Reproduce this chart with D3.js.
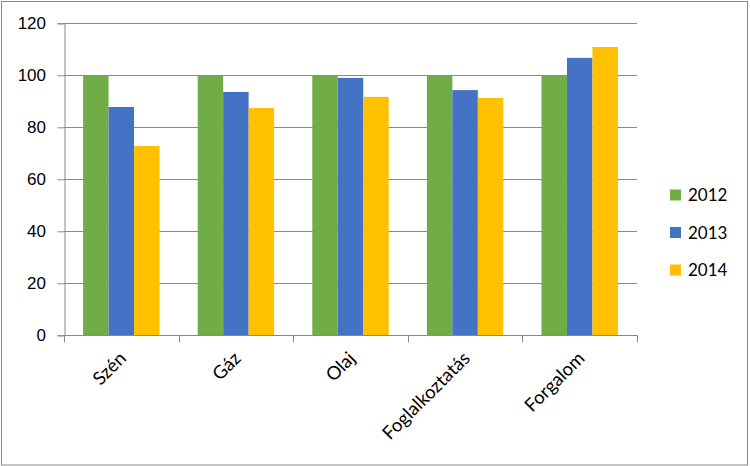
<!DOCTYPE html>
<html lang="hu">
<head>
<meta charset="UTF-8">
<title>Index 2012=100</title>
<script src="https://d3js.org/d3.v7.min.js"></script>
<style>
  body { margin: 0; background: #fff; }
  svg { display: block; font-family: Lato, "Open Sans", sans-serif; }
</style>
</head>
<body>
<script>
// Data (2012 = 100)
const categories = ["Szén", "Gáz", "Olaj", "Foglalkoztatás", "Forgalom"];
const years = ["2012", "2013", "2014"];
const values2012 = [100, 100, 100, 100, 100];
const values2013 = [87.8, 93.6, 99.0, 94.3, 106.7];
const values2014 = [72.8, 87.4, 91.7, 91.3, 110.9];
const yTicks = [0, 20, 40, 60, 80, 100, 120];
const colors = ["#70AD47", "#4472C4", "#FFC000"];

const W = 750, H = 466;
const plot = { left: 64, right: 637, top: 23.3, bottom: 335.3 };
const gridColor = "#898989";

const seriesValues = [values2012, values2013, values2014];
const data = categories.map((c, i) => ({
  category: c,
  bars: years.map((y, j) => ({ year: y, value: seriesValues[j][i] }))
}));

const svg = d3.select("body").append("svg")
  .attr("width", W)
  .attr("height", H);

// outer frame
svg.append("rect")
  .attr("x", 1.5).attr("y", 1.5)
  .attr("width", W - 4).attr("height", H - 2.5)
  .attr("fill", "none")
  .attr("stroke", gridColor);

const x = d3.scaleBand()
  .domain(categories)
  .range([plot.left, plot.right]);

const xInner = d3.scaleBand()
  .domain(years)
  .range([0, x.bandwidth()])
  .paddingOuter(0.75);

const y = d3.scaleLinear()
  .domain([0, 120])
  .range([plot.bottom, plot.top]);

// gridlines
svg.append("g")
  .selectAll("line")
  .data(yTicks.filter(d => d > 0))
  .join("line")
  .attr("x1", plot.left).attr("x2", plot.right)
  .attr("y1", d => Math.round(y(d)) + 0.5)
  .attr("y2", d => Math.round(y(d)) + 0.5)
  .attr("stroke", gridColor);

// bars
svg.append("g")
  .selectAll("g")
  .data(data)
  .join("g")
  .attr("transform", d => `translate(${x(d.category)},0)`)
  .selectAll("rect")
  .data(d => d.bars)
  .join("rect")
  .attr("x", d => xInner(d.year))
  .attr("width", xInner.bandwidth())
  .attr("y", d => y(d.value))
  .attr("height", d => y(0) - y(d.value))
  .attr("fill", (d, i) => colors[i]);

// y axis
const yAxis = svg.append("g")
  .attr("transform", `translate(${plot.left + 0.5},0)`)
  .call(d3.axisLeft(y).tickValues(yTicks).tickSize(7).tickPadding(11.5));
yAxis.select(".domain").attr("stroke", gridColor);
yAxis.selectAll(".tick line").attr("stroke", gridColor);
yAxis.selectAll(".tick text")
  .attr("fill", "#000")
  .style("font-size", "17px")
  .attr("font-family", null);

// x axis: line plus ticks at category boundaries
const xAxisG = svg.append("g")
  .attr("transform", `translate(0,${Math.round(plot.bottom) + 0.5})`);
xAxisG.append("line")
  .attr("x1", plot.left).attr("x2", plot.right + 0.5)
  .attr("stroke", gridColor);
const boundaries = categories.map(c => x(c)).concat([plot.right]);
xAxisG.selectAll(".bt")
  .data(boundaries)
  .join("line")
  .attr("class", "bt")
  .attr("x1", d => Math.round(d) + 0.5).attr("x2", d => Math.round(d) + 0.5)
  .attr("y1", 0).attr("y2", 7)
  .attr("stroke", gridColor);
xAxisG.selectAll("text")
  .data(categories)
  .join("text")
  .attr("transform", d => `translate(${x(d) + x.bandwidth() / 2 + 6},${24}) rotate(-45)`)
  .attr("text-anchor", "end")
  .style("font-size", "18.5px")
  .attr("fill", "#000")
  .text(d => d);

// legend
const legend = svg.append("g")
  .attr("transform", "translate(670,195)");
const item = legend.selectAll("g")
  .data(years)
  .join("g")
  .attr("transform", (d, i) => `translate(0,${i * 37.5})`);
item.append("rect")
  .attr("x", 0).attr("y", -5.5)
  .attr("width", 11).attr("height", 11)
  .attr("fill", (d, i) => colors[i]);
item.append("text")
  .attr("x", 18).attr("y", 0)
  .attr("dy", "0.36em")
  .style("font-size", "17px")
  .attr("fill", "#000")
  .text(d => d);
</script>
</body>
</html>
